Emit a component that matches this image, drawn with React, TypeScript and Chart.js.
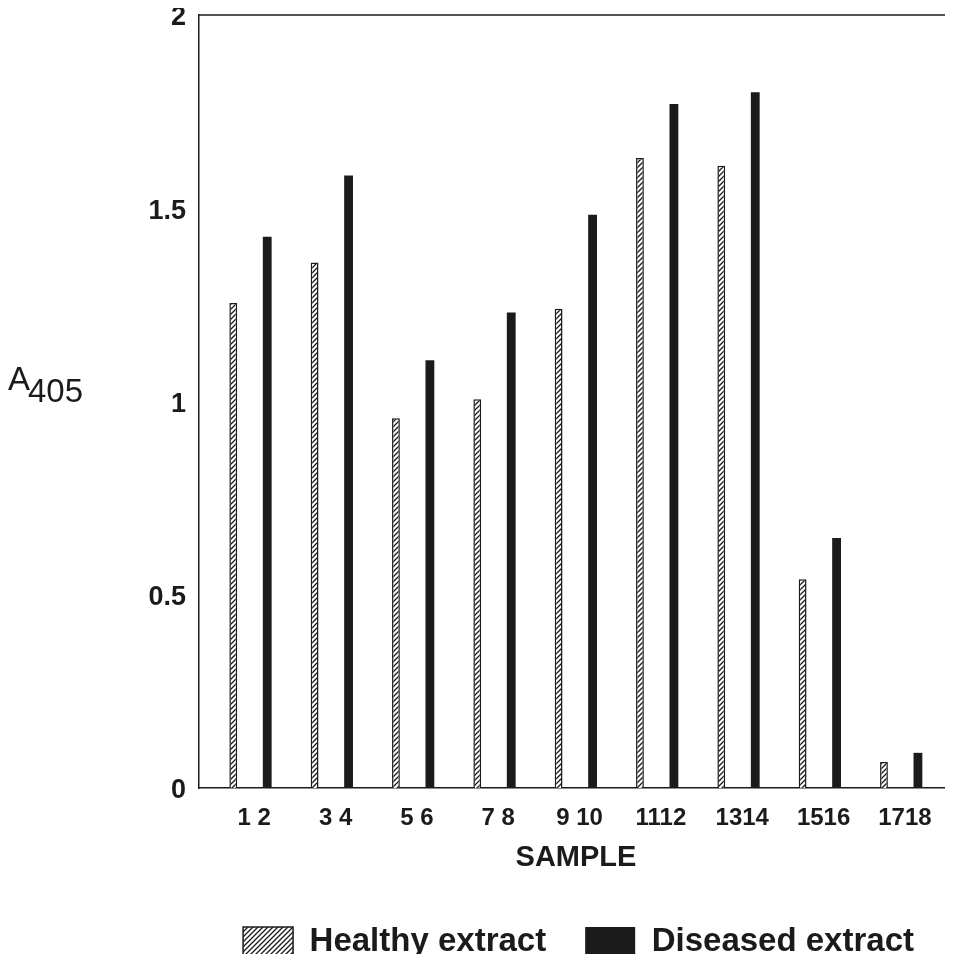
import React, { useEffect, useRef } from "react";
import { Chart, registerables } from "chart.js";

Chart.register(...registerables);

// ---- data ----
const pairLabels = ["1 2", "3 4", "5 6", "7 8", "9 10", "1112", "1314", "1516", "1718"];
const healthy = [1.255, 1.36, 0.957, 1.006, 1.24, 1.63, 1.61, 0.54, 0.067];
const diseased = [1.426, 1.585, 1.107, 1.23, 1.483, 1.77, 1.8, 0.647, 0.091];
const seriesNames = ["Healthy extract", "Diseased extract"];
const yMin = 0;
const yMax = 2;
const yStep = 0.5;
const xTitle = "SAMPLE";
const yTitleMain = "A";
const yTitleSub = "405";

const INK = "#1b1b1b";
const FONT = '"Liberation Sans", Arial, Helvetica, sans-serif';

function makeHatch(): CanvasPattern | string {
  const c = document.createElement("canvas");
  c.width = 5;
  c.height = 5;
  const g = c.getContext("2d");
  if (!g) return "#888";
  g.fillStyle = "#ffffff";
  g.fillRect(0, 0, 5, 5);
  g.strokeStyle = INK;
  g.lineWidth = 1.3;
  g.beginPath();
  g.moveTo(0, 5);
  g.lineTo(5, 0);
  g.moveTo(-1, 1);
  g.lineTo(1, -1);
  g.moveTo(4, 6);
  g.lineTo(6, 4);
  g.stroke();
  return g.createPattern(c, "repeat") || "#888";
}

const framePlugin = {
  id: "frameAndYTitle",
  beforeDraw(chart: any) {
    const { ctx, width, height } = chart;
    ctx.save();
    ctx.fillStyle = "#ffffff";
    ctx.fillRect(0, 0, width, height);
    ctx.restore();
  },
  afterDraw(chart: any) {
    const { ctx, chartArea } = chart;
    ctx.save();
    ctx.strokeStyle = INK;
    ctx.lineWidth = 1.5;
    ctx.beginPath();
    ctx.moveTo(chartArea.left, chartArea.top);
    ctx.lineTo(chartArea.right, chartArea.top);
    ctx.stroke();

    const yRef = chart.scales.y.getPixelForValue(1);
    ctx.fillStyle = INK;
    ctx.font = `33px ${FONT}`;
    ctx.textAlign = "left";
    ctx.textBaseline = "alphabetic";
    ctx.fillText(yTitleMain, 8, yRef - 12);
    const w = ctx.measureText(yTitleMain).width;
    ctx.fillText(yTitleSub, 8 + w - 2, yRef);
    ctx.restore();
  },
};

export default function App() {
  const canvasRef = useRef<HTMLCanvasElement | null>(null);

  useEffect(() => {
    const canvas = canvasRef.current;
    if (!canvas) return;
    const hatch = makeHatch();

    const chart = new Chart(canvas, {
      type: "bar",
      data: {
        datasets: [
          {
            label: seriesNames[0],
            data: healthy.map((v, i) => ({ x: i + 1, y: v })),
            backgroundColor: hatch as any,
            borderColor: INK,
            borderWidth: 1.5,
            barPercentage: 0.23,
            categoryPercentage: 0.835,
          },
          {
            label: seriesNames[1],
            data: diseased.map((v, i) => ({ x: i + 1, y: v })),
            backgroundColor: INK,
            borderColor: INK,
            borderWidth: 0,
            barPercentage: 0.26,
            categoryPercentage: 0.835,
          },
        ],
      },
      options: {
        responsive: false,
        animation: false,
        devicePixelRatio: 1,
        layout: { padding: { top: 0, left: 0, right: 0, bottom: -14.5 } },
        plugins: {
          tooltip: { enabled: false },
          legend: {
            position: "bottom",
            align: "end",
            labels: {
              color: INK,
              font: { family: FONT, size: 33, weight: "bold" },
              boxWidth: 50,
              boxHeight: 30,
              padding: 39,
            },
          },
        },
        scales: {
          x: {
            type: "linear",
            offset: false,
            min: 0.37,
            max: 9.64,
            grid: { display: false, drawTicks: false, offset: false },
            border: { display: true, color: INK, width: 1.5 },
            afterBuildTicks: (scale: any) => {
              scale.ticks = pairLabels.map((_, i) => ({ value: i + 1 }));
            },
            ticks: {
              autoSkip: false,
              maxRotation: 0,
              padding: 15,
              labelOffset: 4,
              color: INK,
              font: { family: FONT, size: 24, weight: "bold", lineHeight: 1.25 },
              callback: (value: any) => pairLabels[Number(value) - 1] ?? "",
            },
            title: {
              display: true,
              text: xTitle,
              color: INK,
              font: { family: FONT, size: 29, weight: "bold", lineHeight: 1 },
              padding: { top: -5, bottom: 14.5 },
            },
          },
          y: {
            min: yMin,
            max: yMax,
            afterFit: (scale: any) => {
              scale.width = 199;
            },
            grid: { display: false, drawTicks: false },
            border: { display: true, color: INK, width: 1.5 },
            ticks: {
              stepSize: yStep,
              padding: 13,
              labelOffset: 3,
              color: INK,
              font: { family: FONT, size: 27, weight: "bold", lineHeight: 0.15 },
              callback: (value: any) => String(Number(value)),
            },
          },
        },
      },
      plugins: [framePlugin],
    });

    return () => {
      chart.destroy();
    };
  }, []);

  return (
    <div style={{ width: 953, height: 954, margin: "-8px 0 0 -8px", position: "relative" }}>
      <canvas ref={canvasRef} width={953} height={954} style={{ display: "block" }} />
    </div>
  );
}
